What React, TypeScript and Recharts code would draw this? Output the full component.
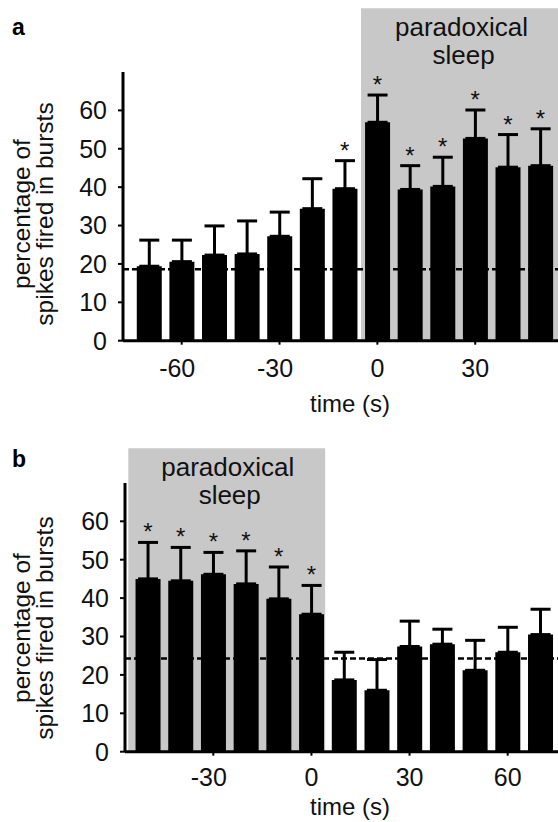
import {
  ComposedChart,
  Bar,
  ErrorBar,
  Scatter,
  XAxis,
  YAxis,
  ReferenceArea,
  ReferenceLine,
  Label,
} from "recharts";

const FONT = '"Liberation Sans", Arial, sans-serif';

// panel a: bins around the onset of paradoxical sleep
const timesA = [-70, -60, -50, -40, -30, -20, -10, 0, 10, 20, 30, 40, 50];
const meansA = [19.4, 20.6, 22.3, 22.6, 27.2, 34.4, 39.6, 56.9, 39.4, 40.2, 52.7, 45.2, 45.6];
const upperA = [26.2, 26.2, 29.9, 31.2, 33.5, 42.2, 46.9, 64.0, 45.6, 47.8, 60.1, 53.7, 55.2];
const starsA = [0, 0, 0, 0, 0, 0, 1, 1, 1, 1, 1, 1, 1];
const ticksA = [-60, -30, 0, 30];
const baselineA = 18.6;

// panel b: bins around the end of paradoxical sleep
const timesB = [-50, -40, -30, -20, -10, 0, 10, 20, 30, 40, 50, 60, 70];
const meansB = [45.0, 44.5, 46.2, 43.7, 39.8, 35.8, 18.7, 16.0, 27.4, 28.0, 21.2, 25.9, 30.5];
const upperB = [54.5, 53.2, 51.9, 52.3, 48.1, 43.3, 25.9, 24.0, 34.0, 31.9, 29.0, 32.4, 37.1];
const starsB = [1, 1, 1, 1, 1, 1, 0, 0, 0, 0, 0, 0, 0];
const ticksB = [-30, 0, 30, 60];
const baselineB = 24.3;

const yTicks = [0, 10, 20, 30, 40, 50, 60];

const buildRows = (times: number[], means: number[], upper: number[], stars: number[]) =>
  times.map((t, i) => ({
    t,
    mean: means[i],
    err: [0, +(upper[i] - means[i]).toFixed(2)],
    star: stars[i] ? upper[i] : null,
  }));

const rowsA = buildRows(timesA, meansA, upperA, starsA);
const rowsB = buildRows(timesB, meansB, upperB, starsB);

// digits sit centred on the tick, the minus sign hangs to the left
const XTick = (props: any) => {
  const { x, y, payload } = props;
  const v = payload.value;
  return (
    <text
      x={x - (v < 0 ? 4.5 : 0)}
      y={y}
      dy="0.71em"
      textAnchor="middle"
      fontSize={25}
      fontFamily={FONT}
      fill="#111"
    >
      {v}
    </text>
  );
};

const Star = (props: any) => {
  const { cx, cy, payload } = props;
  if (payload == null || payload.star == null) return <g />;
  return (
    <text x={cx} y={cy - 2} textAnchor="middle" fontSize={24} fontFamily={FONT} fill="#111">
      *
    </text>
  );
};

const SleepLabel = (props: any) => {
  const vb = props.viewBox || {};
  const cx = vb.x + vb.width / 2;
  return (
    <g fontFamily={FONT} fontSize={26} fill="#111" textAnchor="middle">
      <text x={cx + 1} y={vb.y + 28}>paradoxical</text>
      <text x={cx + 3} y={vb.y + 56}>sleep</text>
    </g>
  );
};

const YTitle = ({ cy }: { cy: number }) => (
  <g
    fontFamily={FONT}
    fontSize={24.5}
    fill="#111"
    textAnchor="middle"
    transform={`rotate(-90, 41, ${cy})`}
  >
    <text x={41} y={cy - 11}>percentage of</text>
    <text x={41} y={cy + 12}>spikes fired in bursts</text>
  </g>
);

const XTitle = ({ y }: { y: number }) => (
  <text x={350} y={y} textAnchor="middle" fontFamily={FONT} fontSize={24} fill="#111">
    time (s)
  </text>
);

type PanelProps = {
  rows: any[];
  xDomain: number[];
  xTicks: number[];
  baseline: number;
  sleep: number[];
  sleepTop: number;
  yAxisWidth: number;
  top: number;
  height: number;
  marginTop: number;
  xAxisHeight: number;
  tickMargin: number;
  xTitleY: number;
  yTitleY: number;
};

const Panel = (p: PanelProps) => (
  <div style={{ position: "absolute", left: 0, top: p.top }}>
    <ComposedChart
      width={560}
      height={p.height}
      data={p.rows}
      margin={{ top: p.marginTop, right: 0, bottom: 0, left: 0 }}
    >
      <ReferenceArea
        x1={p.sleep[0]}
        x2={p.sleep[1]}
        y1={0}
        y2={p.sleepTop}
        fill="#c8c8c8"
        fillOpacity={1}
        stroke="none"
        ifOverflow="visible"
        label={<SleepLabel />}
      />
      <XAxis
        type="number"
        dataKey="t"
        domain={p.xDomain}
        ticks={p.xTicks}
        interval={0}
        allowDataOverflow
        height={p.xAxisHeight}
        axisLine={{ stroke: "#000", strokeWidth: 3 }}
        tickLine={{ stroke: "#000", strokeWidth: 2 }}
        tickSize={4}
        tickMargin={p.tickMargin}
        tick={<XTick />}
      >
        <Label content={() => <XTitle y={p.xTitleY} />} />
      </XAxis>
      <YAxis
        type="number"
        domain={[0, 70]}
        ticks={yTicks}
        interval={0}
        allowDataOverflow
        width={p.yAxisWidth}
        axisLine={{ stroke: "#000", strokeWidth: 3 }}
        tickLine={{ stroke: "#000", strokeWidth: 2 }}
        tickSize={5}
        tickMargin={11}
        tick={{ fontSize: 25, fontFamily: FONT, fill: "#111" }}
      >
        <Label content={() => <YTitle cy={p.yTitleY} />} />
      </YAxis>
      <ReferenceLine
        y={p.baseline}
        stroke="#000"
        strokeWidth={2.5}
        strokeDasharray="6 3"
      />
      <Bar dataKey="mean" fill="#000" barSize={25} isAnimationActive={false}>
        <ErrorBar dataKey="err" width={10} stroke="#000" strokeWidth={3} direction="y" />
      </Bar>
      <Scatter dataKey="star" shape={<Star />} isAnimationActive={false} />
    </ComposedChart>
  </div>
);

export default function App() {
  return (
    <div
      style={{
        position: "fixed",
        left: 0,
        top: 0,
        width: 558,
        height: 822,
        overflow: "hidden",
        background: "#fff",
        fontFamily: FONT,
      }}
    >
      <Panel
        rows={rowsA}
        xDomain={[-78, 56]}
        xTicks={ticksA}
        baseline={baselineA}
        sleep={[-5, 56]}
        sleepTop={86.6}
        yAxisWidth={123}
        top={0}
        height={430}
        marginTop={72}
        xAxisHeight={89.3}
        tickMargin={15}
        xTitleY={412}
        yTitleY={214}
      />
      <Panel
        rows={rowsB}
        xDomain={[-57, 76]}
        xTicks={ticksB}
        baseline={baselineB}
        sleep={[-56, 4.2]}
        sleepTop={79}
        yAxisWidth={125}
        top={410}
        height={412}
        marginTop={72.9}
        xAxisHeight={70.3}
        tickMargin={13}
        xTitleY={405}
        yTitleY={218}
      />
      <div style={{ position: "absolute", left: 12, top: 14, fontSize: 23, fontWeight: "bold" }}>a</div>
      <div style={{ position: "absolute", left: 12, top: 446, fontSize: 23, fontWeight: "bold" }}>b</div>
    </div>
  );
}
